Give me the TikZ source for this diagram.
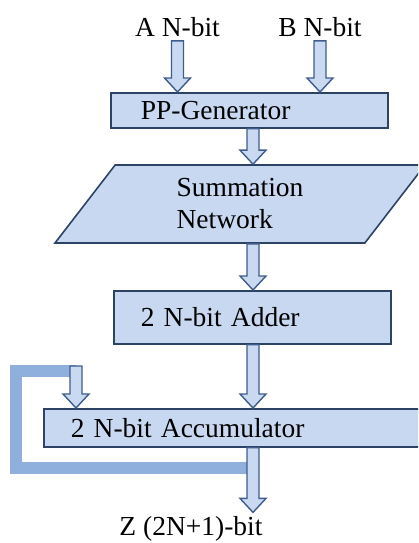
\documentclass[tikz,border=0pt]{standalone}
\usepackage{fontspec}
\setmainfont{Liberation Serif}
\usetikzlibrary{calc,shapes.geometric}

\definecolor{boxfill}{HTML}{C7D8F0}
\definecolor{boxline}{HTML}{2C4366}
\definecolor{arrowfill}{HTML}{C9D9F1}
\definecolor{arrowline}{HTML}{3F5C8C}
\definecolor{loopblue}{HTML}{8FB0DC}

\tikzset{
    block/.style={draw=boxline, fill=boxfill, line width=1.6pt, align=left, inner ysep=0pt, anchor=north west},
    flow/.style={draw=arrowline, fill=arrowfill, line width=1.4pt, line join=miter},
    feedback/.style={draw=loopblue, line width=12pt, line join=miter}
}

\newcommand{\flowarrow}[2]{%
    \draw[flow] let \p1=(#1), \p2=(#2) in
        (\x1-6pt,\y1) -- (\x1-6pt,\y2+14pt) -- (\x1-13pt,\y2+14pt) -- (\x1,\y2)
        -- (\x1+13pt,\y2+14pt) -- (\x1+6pt,\y2+14pt) -- (\x1+6pt,\y1) -- cycle;}

\begin{document}
\begin{tikzpicture}[x=1pt, y=-1pt, font=\fontsize{27.5}{32}\selectfont]
            \useasboundingbox (0,0) rectangle (418,543);
            \clip (0,0) rectangle (418,543);
            \coordinate (spine) at (253,0);

            \node[anchor=base] (inA) at (177.5,37) {A N-bit};
            \node[anchor=base] (inB) at (320,37) {B N-bit};

            \node[block, minimum height=35pt, text width=217pt, inner xsep=30pt] (ppgen) at (110,92) {PP-Generator};
            \node[trapezium, trapezium left angle=40, trapezium right angle=140, trapezium stretches body,
                draw=boxline, fill=boxfill, line width=1.6pt, align=left,
                minimum width=370pt, minimum height=78pt, inner sep=0pt] (sumnet) at (240,204) {Summation\\Network};
            \node[block, minimum height=53pt, text width=223pt, inner xsep=27pt] (adder) at (113,290) {2 N-bit Adder};
            \node[block, minimum height=38pt, text width=340pt, inner xsep=27pt] (accum) at (43,408) {2 N-bit Accumulator};

            \node[anchor=base] (outZ) at (191,535) {Z (2N+1)-bit};

            \coordinate (fbin) at (76,371);
            \coordinate (fbleft) at (16,468);
            \draw[feedback] (fbleft -| spine) -- (fbleft) |- (fbin);

            \flowarrow{inA.south}{ppgen.north -| inA}
            \flowarrow{inB.south}{ppgen.north -| inB}
            \flowarrow{ppgen.south -| spine}{sumnet.north -| spine}
            \flowarrow{sumnet.south -| spine}{adder.north -| spine}
            \flowarrow{adder.south -| spine}{accum.north -| spine}
            \flowarrow{$(fbin)+(0,-5)$}{accum.north -| fbin}
            \flowarrow{accum.south -| spine}{outZ.north -| spine}
\end{tikzpicture}
\end{document}
